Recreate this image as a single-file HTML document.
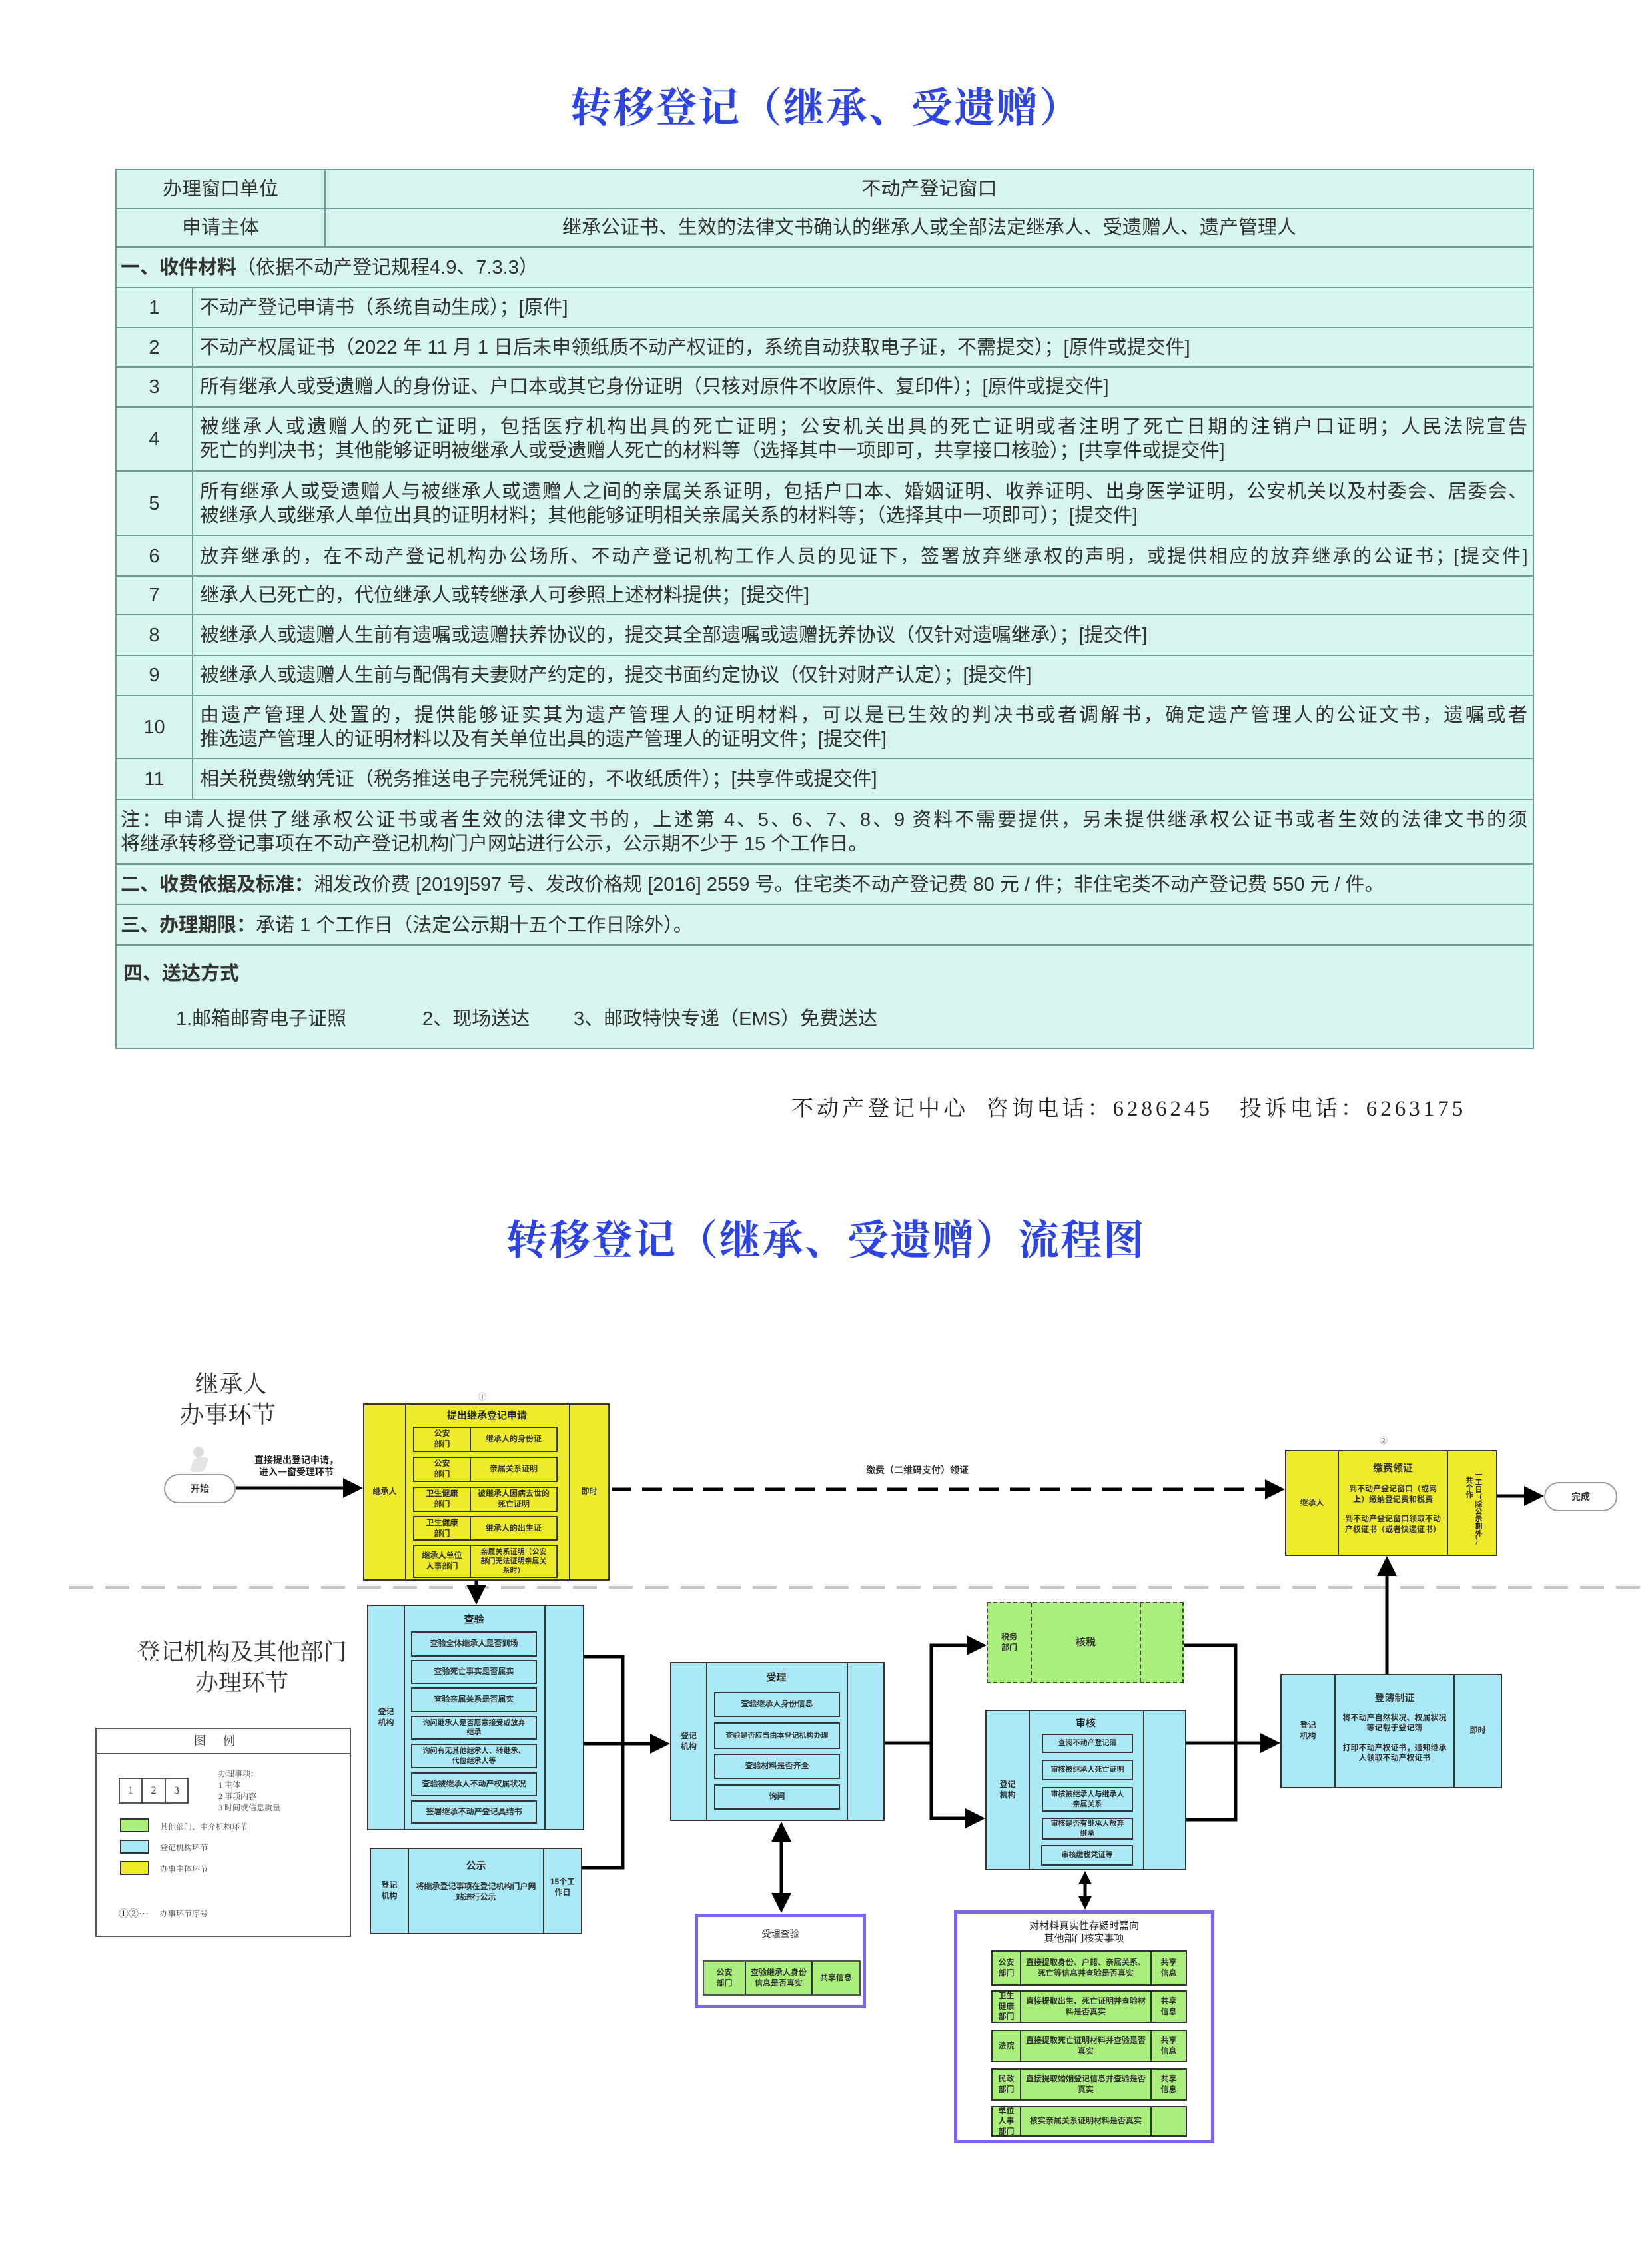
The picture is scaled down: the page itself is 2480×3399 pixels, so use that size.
<!DOCTYPE html>
<html><head><meta charset="utf-8">
<style>
*{margin:0;padding:0;box-sizing:border-box}
body{width:2480px;height:3399px;background:#fff;position:relative;overflow:hidden;font-family:"Liberation Sans","Noto Sans CJK SC",sans-serif;color:#333}
.a{position:absolute}
.title{position:absolute;left:0;width:2480px;text-align:center;font-family:"Liberation Serif","Noto Serif CJK SC",serif;font-weight:bold;color:#2c44e4;font-size:62px;letter-spacing:2px}
.tr{position:absolute;left:173px;width:2130px;background:#d6f5ee;border:2px solid #6f9c98;border-top:none;display:flex}
.tr>div{border-right:2px solid #6f9c98;display:flex;align-items:center;font-size:29px;line-height:36px}
.tr>div:last-child{border-right:none}
.n{width:115px;justify-content:center}
.c{flex:1;padding:0 8px 0 10px}
.ml{flex-direction:column;align-items:stretch!important;justify-content:center}
.ml span{display:block;text-align:justify;text-align-last:justify;white-space:nowrap}
.row{position:absolute;display:flex;border:2px solid #333}
.row>div{display:flex;align-items:center;justify-content:center;text-align:center;border-right:2px solid #333;font-weight:bold;font-size:12px;line-height:1.3}
.row>div:last-child{border-right:none}
.Y{background:#eeec2a}.B{background:#a9e8f5}.G{background:#aaee7c}
.t{position:absolute;text-align:center;font-weight:bold;color:#222}
.oval{position:absolute;border:2px solid #999;border-radius:30px;background:#fff;display:flex;align-items:center;justify-content:center;font-weight:bold;font-size:14px}
.frame{position:absolute;border:5px solid #7a62ee;background:#fff}
.lg{position:absolute;font-family:"Liberation Serif","Noto Serif CJK SC",serif;font-size:13px;color:#444}
</style></head><body>

<div class="title" style="top:112px">转移登记（继承、受遗赠）</div>

<div class="tr" style="top:253px;height:61px;border-top:2px solid #6f9c98"><div style="width:314px;justify-content:center">办理窗口单位</div><div style="flex:1;justify-content:center">不动产登记窗口</div></div>
<div class="tr" style="top:314px;height:58px"><div style="width:314px;justify-content:center">申请主体</div><div style="flex:1;justify-content:center">继承公证书、生效的法律文书确认的继承人或全部法定继承人、受遗赠人、遗产管理人</div></div>
<div class="tr" style="top:372px;height:61px"><div class="c" style="padding-left:6px"><b>一、收件材料</b>（依据不动产登记规程4.9、7.3.3）</div></div>
<div class="tr" style="top:433px;height:60px"><div class="n">1</div><div class="c">不动产登记申请书（系统自动生成）；[原件]</div></div>
<div class="tr" style="top:493px;height:59px"><div class="n">2</div><div class="c">不动产权属证书（2022 年 11 月 1 日后未申领纸质不动产权证的，系统自动获取电子证，不需提交）；[原件或提交件]</div></div>
<div class="tr" style="top:552px;height:60px"><div class="n">3</div><div class="c">所有继承人或受遗赠人的身份证、户口本或其它身份证明（只核对原件不收原件、复印件）；[原件或提交件]</div></div>
<div class="tr" style="top:612px;height:96px"><div class="n">4</div><div class="c ml"><span>被继承人或遗赠人的死亡证明，包括医疗机构出具的死亡证明；公安机关出具的死亡证明或者注明了死亡日期的注销户口证明；人民法院宣告</span><span style="text-align-last:left">死亡的判决书；其他能够证明被继承人或受遗赠人死亡的材料等（选择其中一项即可，共享接口核验）；[共享件或提交件]</span></div></div>
<div class="tr" style="top:708px;height:97px"><div class="n">5</div><div class="c ml"><span>所有继承人或受遗赠人与被继承人或遗赠人之间的亲属关系证明，包括户口本、婚姻证明、收养证明、出身医学证明，公安机关以及村委会、居委会、</span><span style="text-align-last:left">被继承人或继承人单位出具的证明材料；其他能够证明相关亲属关系的材料等；（选择其中一项即可）；[提交件]</span></div></div>
<div class="tr" style="top:805px;height:61px"><div class="n">6</div><div class="c ml"><span style="font-size:28px;letter-spacing:-0.5px">放弃继承的，在不动产登记机构办公场所、不动产登记机构工作人员的见证下，签署放弃继承权的声明，或提供相应的放弃继承的公证书；[提交件]</span></div></div>
<div class="tr" style="top:866px;height:58px"><div class="n">7</div><div class="c">继承人已死亡的，代位继承人或转继承人可参照上述材料提供；[提交件]</div></div>
<div class="tr" style="top:924px;height:61px"><div class="n">8</div><div class="c">被继承人或遗赠人生前有遗嘱或遗赠扶养协议的，提交其全部遗嘱或遗赠抚养协议（仅针对遗嘱继承）；[提交件]</div></div>
<div class="tr" style="top:985px;height:60px"><div class="n">9</div><div class="c">被继承人或遗赠人生前与配偶有夫妻财产约定的，提交书面约定协议（仅针对财产认定）；[提交件]</div></div>
<div class="tr" style="top:1045px;height:95px"><div class="n">10</div><div class="c ml"><span>由遗产管理人处置的，提供能够证实其为遗产管理人的证明材料，可以是已生效的判决书或者调解书，确定遗产管理人的公证文书，遗嘱或者</span><span style="text-align-last:left">推选遗产管理人的证明材料以及有关单位出具的遗产管理人的证明文件；[提交件]</span></div></div>
<div class="tr" style="top:1140px;height:61px"><div class="n">11</div><div class="c">相关税费缴纳凭证（税务推送电子完税凭证的，不收纸质件）；[共享件或提交件]</div></div>
<div class="tr" style="top:1201px;height:97px"><div class="c ml" style="padding-left:6px"><span>注：申请人提供了继承权公证书或者生效的法律文书的，上述第 4、5、6、7、8、9 资料不需要提供，另未提供继承权公证书或者生效的法律文书的须</span><span style="text-align-last:left">将继承转移登记事项在不动产登记机构门户网站进行公示，公示期不少于 15 个工作日。</span></div></div>
<div class="tr" style="top:1298px;height:61px"><div class="c" style="padding-left:6px"><b>二、收费依据及标准：</b>湘发改价费 [2019]597 号、发改价格规 [2016] 2559 号。住宅类不动产登记费 80 元 / 件；非住宅类不动产登记费 550 元 / 件。</div></div>
<div class="tr" style="top:1359px;height:61px"><div class="c" style="padding-left:6px"><b>三、办理期限：</b>承诺 1 个工作日（法定公示期十五个工作日除外）。</div></div>
<div class="tr" style="top:1420px;height:155px"></div>
<div class="a" style="left:185px;top:1438px;font-size:29px;font-weight:bold">四、送达方式</div>
<div class="a" style="left:264px;top:1506px;font-size:29px">1.邮箱邮寄电子证照</div>
<div class="a" style="left:634px;top:1506px;font-size:29px">2、现场送达</div>
<div class="a" style="left:861px;top:1506px;font-size:29px">3、邮政特快专递（EMS）免费送达</div>

<div class="a" style="left:1188px;top:1638px;font-family:'Liberation Serif','Noto Serif CJK SC',serif;font-size:33px;letter-spacing:5px;color:#222;white-space:nowrap">不动产登记中心&nbsp; 咨询电话：6286245&nbsp;&nbsp; 投诉电话：6263175</div>

<div class="title" style="top:1812px">转移登记（继承、受遗赠）流程图</div>

<div class="a" style="left:270px;top:2055px;font-family:'Liberation Serif','Noto Serif CJK SC',serif;font-size:36px;line-height:46px;text-align:center;color:#333">&nbsp;继承人<br>办事环节</div>
<div class="a" style="left:196px;top:2458px;width:334px;font-family:'Liberation Serif','Noto Serif CJK SC',serif;font-size:35px;line-height:46px;text-align:center;color:#333">登记机构及其他部门<br>办理环节</div>

<div class="a" style="left:290px;top:2172px;width:16px;height:16px;border-radius:50%;background:#ddd"></div>
<div class="a" style="left:288px;top:2188px;width:22px;height:22px;border-radius:6px;background:#e4e4e4;transform:skewX(-20deg)"></div>

<div class="oval" style="left:246px;top:2213px;width:108px;height:44px">开始</div>
<div class="t" style="left:370px;top:2183px;width:150px;font-size:14px;line-height:18px">直接提出登记申请，<br>进入一窗受理环节</div>

<div class="t" style="left:718px;top:2088px;font-size:12px;font-weight:normal;color:#777">①</div>
<div class="row Y" style="left:545px;top:2107px;width:370px;height:266px"><div style="width:63px">继承人</div><div style="width:246px"></div><div style="flex:1">即时</div></div>
<div class="t" style="left:608px;top:2114px;width:246px;font-size:15px">提出继承登记申请</div>
<div class="row Y" style="left:620px;top:2142px;width:217px;height:38px"><div style="width:85px">公安<br>部门</div><div style="flex:1">继承人的身份证</div></div>
<div class="row Y" style="left:620px;top:2187px;width:217px;height:38px"><div style="width:85px">公安<br>部门</div><div style="flex:1">亲属关系证明</div></div>
<div class="row Y" style="left:620px;top:2232px;width:217px;height:38px"><div style="width:85px">卫生健康<br>部门</div><div style="flex:1">被继承人因病去世的<br>死亡证明</div></div>
<div class="row Y" style="left:620px;top:2276px;width:217px;height:37px"><div style="width:85px">卫生健康<br>部门</div><div style="flex:1">继承人的出生证</div></div>
<div class="row Y" style="left:620px;top:2319px;width:217px;height:50px"><div style="width:85px">继承人单位<br>人事部门</div><div style="flex:1;font-size:11px">亲属关系证明（公安<br>部门无法证明亲属关<br>系时）</div></div>

<div class="t" style="left:1300px;top:2197px;font-size:14px;color:#333">缴费（二维码支付）领证</div>

<div class="t" style="left:2071px;top:2154px;font-size:12px;font-weight:normal;color:#777">②</div>
<div class="row Y" style="left:1929px;top:2177px;width:319px;height:159px"><div style="width:79px">继承人</div><div style="width:164px;flex-direction:column;font-size:12px"><div style="font-size:15px;margin-bottom:14px">缴费领证</div><div>到不动产登记窗口（或网<br>上）缴纳登记费和税费</div><div style="margin-top:14px">到不动产登记窗口领取不动<br>产权证书（或者快递证书）</div><div style="height:14px"></div></div><div style="flex:1"></div></div>
<div class="t" style="left:2200px;top:2218px;width:12px;font-size:11px;line-height:11px">共<br>个<br>作</div>
<div class="t" style="left:2214px;top:2210px;width:12px;font-size:11px;line-height:11px">一<br>工<br>日<br>（<br>除<br>公<br>示<br>期<br>外<br>）</div>
<div class="oval" style="left:2318px;top:2225px;width:110px;height:44px">完成</div>

<div class="row B" style="left:551px;top:2409px;width:326px;height:339px"><div style="width:55px">登记<br>机构</div><div style="width:211px"></div><div style="flex:1"></div></div>
<div class="t" style="left:606px;top:2420px;width:211px;font-size:15px">查验</div>
<div class="row B" style="left:617px;top:2449px;width:189px;height:38px"><div style="flex:1">查验全体继承人是否到场</div></div>
<div class="row B" style="left:617px;top:2492px;width:189px;height:36px"><div style="flex:1">查验死亡事实是否属实</div></div>
<div class="row B" style="left:617px;top:2533px;width:189px;height:38px"><div style="flex:1">查验亲属关系是否属实</div></div>
<div class="row B" style="left:617px;top:2576px;width:189px;height:36px"><div style="flex:1;font-size:11px">询问继承人是否愿意接受或放弃<br>继承</div></div>
<div class="row B" style="left:617px;top:2618px;width:189px;height:37px"><div style="flex:1;font-size:11px">询问有无其他继承人、转继承、<br>代位继承人等</div></div>
<div class="row B" style="left:617px;top:2661px;width:189px;height:36px"><div style="flex:1">查验被继承人不动产权属状况</div></div>
<div class="row B" style="left:617px;top:2703px;width:189px;height:35px"><div style="flex:1">签署继承不动产登记具结书</div></div>

<div class="row B" style="left:555px;top:2774px;width:319px;height:130px"><div style="width:57px">登记<br>机构</div><div style="width:203px;flex-direction:column"><div style="font-size:15px;margin-bottom:14px">公示</div><div>将继承登记事项在登记机构门户网<br>站进行公示</div><div style="height:30px"></div></div><div style="flex:1;padding-bottom:10px">15个工<br>作日</div></div>

<div class="row B" style="left:1006px;top:2495px;width:322px;height:239px"><div style="width:54px">登记<br>机构</div><div style="width:211px"></div><div style="flex:1"></div></div>
<div class="t" style="left:1060px;top:2507px;width:211px;font-size:15px">受理</div>
<div class="row B" style="left:1072px;top:2540px;width:189px;height:38px"><div style="flex:1">查验继承人身份信息</div></div>
<div class="row B" style="left:1072px;top:2586px;width:189px;height:40px"><div style="flex:1;font-size:11px">查验是否应当由本登记机构办理</div></div>
<div class="row B" style="left:1072px;top:2633px;width:189px;height:38px"><div style="flex:1">查验材料是否齐全</div></div>
<div class="row B" style="left:1072px;top:2679px;width:189px;height:38px"><div style="flex:1">询问</div></div>

<div class="frame" style="left:1043px;top:2873px;width:257px;height:142px"></div>
<div class="t" style="left:1043px;top:2893px;width:257px;font-size:14px;font-weight:normal">受理查验</div>
<div class="row G" style="left:1055px;top:2943px;width:237px;height:53px;border-color:#555"><div style="width:63px">公安<br>部门</div><div style="width:100px">查验继承人身份<br>信息是否真实</div><div style="flex:1">共享信息</div></div>

<div class="row G" style="left:1481px;top:2405px;width:296px;height:122px;border:2px dashed #444"><div style="width:66px;border-right:2px dashed #444">税务<br>部门</div><div style="width:164px;border-right:2px dashed #444;font-size:15px">核税</div><div style="flex:1"></div></div>

<div class="row B" style="left:1479px;top:2567px;width:302px;height:241px"><div style="width:65px">登记<br>机构</div><div style="width:172px"></div><div style="flex:1"></div></div>
<div class="t" style="left:1544px;top:2576px;width:172px;font-size:15px">审核</div>
<div class="row B" style="left:1564px;top:2603px;width:137px;height:29px"><div style="flex:1;font-size:11px">查阅不动产登记簿</div></div>
<div class="row B" style="left:1564px;top:2642px;width:137px;height:31px"><div style="flex:1;font-size:11px">审核被继承人死亡证明</div></div>
<div class="row B" style="left:1564px;top:2683px;width:137px;height:37px"><div style="flex:1;font-size:11px">审核被继承人与继承人<br>亲属关系</div></div>
<div class="row B" style="left:1564px;top:2729px;width:137px;height:33px"><div style="flex:1;font-size:11px">审核是否有继承人放弃<br>继承</div></div>
<div class="row B" style="left:1563px;top:2770px;width:138px;height:31px"><div style="flex:1;font-size:11px">审核缴税凭证等</div></div>

<div class="row B" style="left:1922px;top:2513px;width:333px;height:172px"><div style="width:81px">登记<br>机构</div><div style="width:179px;flex-direction:column;font-size:12px"><div style="font-size:15px;margin-bottom:12px">登簿制证</div><div>将不动产自然状况、权属状况<br>等记载于登记簿</div><div style="margin-top:14px">打印不动产权证书，通知继承<br>人领取不动产权证书</div><div style="height:10px"></div></div><div style="flex:1">即时</div></div>

<div class="frame" style="left:1432px;top:2868px;width:391px;height:350px"></div>
<div class="t" style="left:1432px;top:2882px;width:391px;font-size:15px;font-weight:normal;line-height:19px">对材料真实性存疑时需向<br>其他部门核实事项</div>
<div class="row G" style="left:1488px;top:2928px;width:294px;height:53px"><div style="width:43px">公安<br>部门</div><div style="width:196px">直接提取身份、户籍、亲属关系、<br>死亡等信息并查验是否真实</div><div style="flex:1">共享<br>信息</div></div>
<div class="row G" style="left:1488px;top:2988px;width:294px;height:49px"><div style="width:43px">卫生<br>健康<br>部门</div><div style="width:196px">直接提取出生、死亡证明并查验材<br>料是否真实</div><div style="flex:1">共享<br>信息</div></div>
<div class="row G" style="left:1488px;top:3047px;width:294px;height:49px"><div style="width:43px">法院</div><div style="width:196px">直接提取死亡证明材料并查验是否<br>真实</div><div style="flex:1">共享<br>信息</div></div>
<div class="row G" style="left:1488px;top:3105px;width:294px;height:49px"><div style="width:43px">民政<br>部门</div><div style="width:196px">直接提取婚姻登记信息并查验是否<br>真实</div><div style="flex:1">共享<br>信息</div></div>
<div class="row G" style="left:1488px;top:3162px;width:294px;height:46px"><div style="width:43px">单位<br>人事<br>部门</div><div style="width:196px">核实亲属关系证明材料是否真实</div><div style="flex:1"></div></div>

<div class="a" style="left:143px;top:2594px;width:384px;height:314px;border:2px solid #555"></div>
<div class="a" style="left:143px;top:2632px;width:384px;height:2px;background:#555"></div>
<div class="lg" style="left:143px;top:2600px;width:384px;text-align:center;font-size:18px;letter-spacing:26px">图例</div>
<div class="a" style="left:178px;top:2669px;width:105px;height:39px;border:2px solid #555;display:flex;font-family:'Liberation Serif',serif;font-size:16px">
<div style="flex:1;display:flex;align-items:center;justify-content:center;border-right:2px solid #555">1</div><div style="flex:1;display:flex;align-items:center;justify-content:center;border-right:2px solid #555">2</div><div style="flex:1;display:flex;align-items:center;justify-content:center">3</div></div>
<div class="lg" style="left:328px;top:2655px;line-height:17px;font-size:12px">办理事项：<br>1 主体<br>2 事项内容<br>3 时间或信息质量</div>
<div class="a G" style="left:180px;top:2730px;width:44px;height:21px;border:2px solid #333"></div>
<div class="lg" style="left:240px;top:2734px;font-size:12px">其他部门、中介机构环节</div>
<div class="a B" style="left:180px;top:2762px;width:44px;height:21px;border:2px solid #333"></div>
<div class="lg" style="left:240px;top:2765px;font-size:12px">登记机构环节</div>
<div class="a Y" style="left:180px;top:2794px;width:44px;height:21px;border:2px solid #333"></div>
<div class="lg" style="left:240px;top:2797px;font-size:12px">办事主体环节</div>
<div class="lg" style="left:178px;top:2862px;font-size:15px;color:#222">①②···</div>
<div class="lg" style="left:240px;top:2864px;font-size:12px">办事环节序号</div>

<svg class="a" style="left:0;top:0" width="2480" height="3399">
<defs>
<marker id="ar" markerWidth="6" markerHeight="6" refX="5" refY="3" orient="auto" markerUnits="strokeWidth"><path d="M0,0 L6,3 L0,6 z" fill="#000"/></marker>
<marker id="as" markerWidth="6" markerHeight="6" refX="1" refY="3" orient="auto" markerUnits="strokeWidth"><path d="M6,0 L0,3 L6,6 z" fill="#000"/></marker>
</defs>
<line x1="104" y1="2383" x2="2480" y2="2383" stroke="#c2c2c2" stroke-width="4" stroke-dasharray="36,18"/>
<g stroke="#000" stroke-width="5" fill="none">
<line x1="354" y1="2234" x2="540" y2="2234" marker-end="url(#ar)"/>
<line x1="918" y1="2236" x2="1924" y2="2236" stroke-dasharray="30,16" marker-end="url(#ar)"/>
<line x1="2248" y1="2246" x2="2313" y2="2246" marker-end="url(#ar)"/>
<line x1="715" y1="2373" x2="715" y2="2404" marker-end="url(#ar)"/>
<polyline points="877,2487 935,2487 935,2804 874,2804"/>
<line x1="877" y1="2618" x2="1001" y2="2618" marker-end="url(#ar)"/>
<line x1="1173" y1="2740" x2="1173" y2="2867" marker-start="url(#as)" marker-end="url(#ar)"/>
<line x1="1328" y1="2617" x2="1398" y2="2617"/>
<polyline points="1476,2470 1398,2470 1398,2730 1474,2730" marker-end="url(#ar)"/>
<line x1="1398" y1="2470" x2="1476" y2="2470" marker-end="url(#ar)"/>
<polyline points="1777,2470 1855,2470 1855,2732 1781,2732"/>
<line x1="1781" y1="2617" x2="1917" y2="2617" marker-end="url(#ar)"/>
<line x1="1629" y1="2825" x2="1629" y2="2850"/>
<line x1="2082" y1="2513" x2="2082" y2="2341" marker-end="url(#ar)"/>
</g>
<polygon points="1629,2809 1619,2829 1639,2829" fill="#000"/>
<polygon points="1629,2867 1619,2847 1639,2847" fill="#000"/>
</svg>
</body></html>
